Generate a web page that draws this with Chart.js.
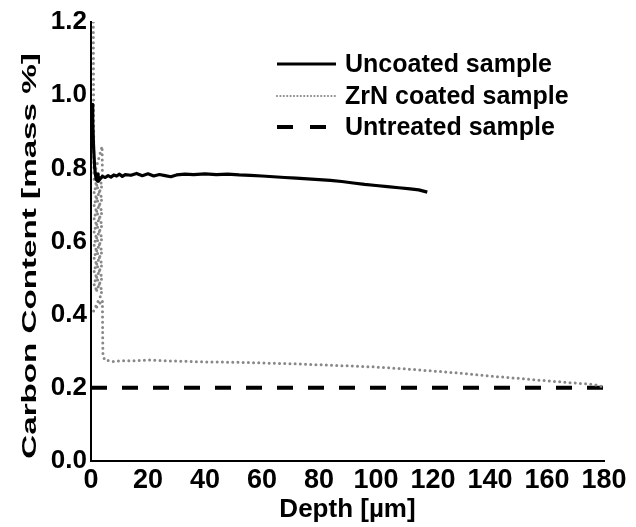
<!DOCTYPE html>
<html>
<head>
<meta charset="utf-8">
<script src="https://cdn.jsdelivr.net/npm/chart.js@4.4.1/dist/chart.umd.min.js"></script>
<style>
  html, body { margin: 0; padding: 0; background: #fff; }
  #wrap { width: 636px; height: 527px; position: relative; }
</style>
</head>
<body>
<div id="wrap"><canvas id="c" width="636" height="527"></canvas></div>
<script>
// ---- data ----
const seriesNames = ["Uncoated sample", "ZrN coated sample", "Untreated sample"];
const xTitle = "Depth [µm]";
const yTitle = "Carbon Content [mass %]";
const xTicks = [0, 20, 40, 60, 80, 100, 120, 140, 160, 180];
const yTicks = [0.0, 0.2, 0.4, 0.6, 0.8, 1.0, 1.2];

const uncoatedDepth = [0.4, 0.6, 0.9, 1.3, 1.8, 2.4, 2.8, 2.5, 2.1, 2.6, 3.3, 4, 5, 6, 7, 8, 9, 10, 11, 12, 14, 16, 18, 20, 22, 24, 26, 28, 30, 33, 36, 40, 44, 48, 52, 56, 60, 64, 68, 72, 76, 80, 84, 88, 92, 96, 100, 104, 108, 112, 115, 118];
const uncoatedCarbon = [0.975, 0.93, 0.86, 0.80, 0.77, 0.765, 0.775, 0.785, 0.775, 0.765, 0.772, 0.778, 0.775, 0.780, 0.776, 0.782, 0.779, 0.784, 0.778, 0.783, 0.781, 0.786, 0.780, 0.785, 0.779, 0.783, 0.780, 0.777, 0.782, 0.784, 0.783, 0.785, 0.783, 0.784, 0.782, 0.781, 0.779, 0.777, 0.775, 0.773, 0.771, 0.769, 0.767, 0.764, 0.760, 0.756, 0.753, 0.750, 0.747, 0.744, 0.741, 0.735];

const zrnDepth = [0.8, 0.9, 1.0, 3.9, 4.0, 1.0, 3.9, 1.0, 3.9, 1.0, 3.9, 1.0, 3.9, 1.0, 3.9, 1.0, 3.9, 1.0, 3.9, 1.0, 3.9, 1.0, 3.9, 1.0, 3.9, 1.0, 3.9, 1.0, 3.9, 1.0, 3.9, 1.0, 3.9, 1.0, 3.9, 1.0, 3.9, 1.0, 3.9, 1.0, 3.9, 1.0, 3.9, 1.0, 3.9, 1.0, 3.9, 1.0, 3.9, 1.0, 3.9, 1.0, 3.9, 1.0, 3.9, 1.0, 3.9, 0.9, 4.0, 4.1, 4.2, 4.8, 6, 8, 10, 15, 20, 30, 40, 50, 60, 70, 80, 90, 100, 110, 120, 130, 140, 150, 160, 170, 175, 178, 180];
const zrnCarbon = [1.20, 0.98, 0.78, 0.86, 0.775, 0.77, 0.76, 0.758, 0.748, 0.746, 0.736, 0.734, 0.724, 0.722, 0.712, 0.710, 0.700, 0.698, 0.688, 0.686, 0.676, 0.674, 0.664, 0.662, 0.652, 0.650, 0.640, 0.638, 0.628, 0.626, 0.616, 0.614, 0.604, 0.602, 0.592, 0.590, 0.580, 0.578, 0.568, 0.566, 0.556, 0.554, 0.544, 0.542, 0.532, 0.530, 0.520, 0.518, 0.508, 0.506, 0.496, 0.494, 0.484, 0.482, 0.472, 0.470, 0.460, 0.41, 0.44, 0.34, 0.29, 0.276, 0.275, 0.272, 0.274, 0.274, 0.276, 0.273, 0.271, 0.270, 0.268, 0.266, 0.263, 0.260, 0.257, 0.252, 0.246, 0.240, 0.232, 0.226, 0.219, 0.213, 0.210, 0.207, 0.202];

const untreatedDepth = [0, 180];
const untreatedCarbon = [0.2, 0.2];

const toPoints = (xs, ys) => xs.map((x, i) => ({ x: x, y: ys[i] }));

const styles = [
  { color: '#000000', width: 3.2, dash: [], cap: 'butt' },
  { color: '#888888', width: 3, dash: [0, 5.2], cap: 'round' },
  { color: '#000000', width: 4, dash: [16, 15], cap: 'butt' }
];

const FONT = "'Liberation Sans', Arial, sans-serif";

const legendPlugin = {
  id: 'insideLegend',
  afterDatasetsDraw(chart) {
    const ctx = chart.ctx;
    ctx.save();
    const rows = [64, 96, 127];
    chart.data.datasets.forEach((ds, i) => {
      const s = styles[i];
      ctx.beginPath();
      ctx.strokeStyle = s.color;
      ctx.lineWidth = i === 1 ? 2.2 : s.width;
      ctx.lineCap = s.cap;
      ctx.setLineDash(i === 1 ? [0, 3.4] : (i === 2 ? [16, 17] : []));
      ctx.moveTo(277, rows[i]);
      ctx.lineTo(i === 2 ? 327 : 336, rows[i]);
      ctx.stroke();
      ctx.setLineDash([]);
      ctx.fillStyle = '#000';
      ctx.font = "bold 25px " + FONT;
      ctx.textBaseline = 'middle';
      ctx.textAlign = 'left';
      ctx.fillText(ds.label, 345, rows[i] + 1);
    });
    ctx.restore();
  }
};

const yTitlePlugin = {
  id: 'stretchedYTitle',
  afterDraw(chart) {
    const ctx = chart.ctx;
    ctx.save();
    ctx.translate(30, 256);
    ctx.rotate(-Math.PI / 2);
    ctx.scale(1.58, 1);
    ctx.fillStyle = '#000';
    ctx.font = "bold 21px " + FONT;
    ctx.textAlign = 'center';
    ctx.textBaseline = 'middle';
    ctx.fillText(yTitle, 0, 0);
    ctx.restore();
  }
};

new Chart(document.getElementById('c'), {
  type: 'scatter',
  data: {
    datasets: [
      { label: seriesNames[0], data: toPoints(uncoatedDepth, uncoatedCarbon) },
      { label: seriesNames[1], data: toPoints(zrnDepth, zrnCarbon) },
      { label: seriesNames[2], data: toPoints(untreatedDepth, untreatedCarbon) }
    ].map((d, i) => Object.assign(d, {
      showLine: true,
      borderColor: styles[i].color,
      backgroundColor: styles[i].color,
      borderWidth: styles[i].width,
      borderDash: styles[i].dash,
      borderCapStyle: styles[i].cap,
      borderJoinStyle: 'round',
      pointRadius: 0,
      pointHoverRadius: 0,
      tension: 0
    }))
  },
  options: {
    responsive: false,
    animation: false,
    events: [],
    layout: { padding: { left: 0, right: 32, top: 22, bottom: 0 } },
    plugins: { legend: { display: false }, tooltip: { enabled: false }, title: { display: false } },
    scales: {
      x: {
        type: 'linear', min: 0, max: 180,
        afterBuildTicks: (s) => { s.ticks = xTicks.map(v => ({ value: v })); },
        afterFit: (s) => { s.height = 66; },
        grid: { display: false, drawTicks: false },
        border: { display: true, color: '#000', width: 2 },
        ticks: { padding: 3, color: '#000', font: { family: FONT, size: 27, weight: 'bold' }, maxRotation: 0, autoSkip: false },
        title: { display: true, text: xTitle, color: '#000', font: { family: FONT, size: 26, weight: 'bold' }, padding: { top: 0, bottom: 2 } }
      },
      y: {
        type: 'linear', min: 0, max: 1.2,
        afterBuildTicks: (s) => { s.ticks = yTicks.map(v => ({ value: v })); },
        afterFit: (s) => { s.width = 91; },
        grid: { display: false, drawTicks: false },
        border: { display: true, color: '#000', width: 2 },
        ticks: { padding: 4, color: '#000', font: { family: FONT, size: 26, weight: 'bold' }, callback: (v) => Number(v).toFixed(1) }
      }
    }
  },
  plugins: [legendPlugin, yTitlePlugin]
});
</script>
</body>
</html>
